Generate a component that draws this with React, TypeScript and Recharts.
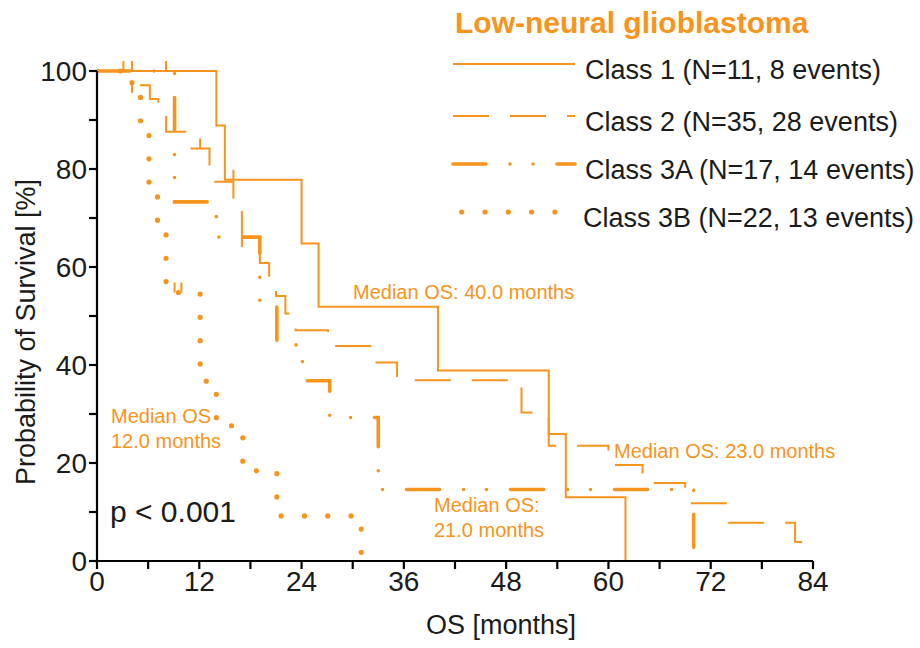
import React from "react";
import { LineChart, Line, XAxis, YAxis, Scatter } from "recharts";

const ORANGE = "#F7941D";
const INK = "#1b1b1b";
const FONT = "'Liberation Sans', Arial, Helvetica, sans-serif";

// Kaplan-Meier steps: t = months, s = survival [%]
const class1 = [
  { t: 0, s: 100 }, { t: 14, s: 88.9 }, { t: 15, s: 77.8 }, { t: 24, s: 64.8 },
  { t: 26, s: 51.9 }, { t: 40, s: 38.9 }, { t: 53, s: 25.9 }, { t: 55, s: 13.0 },
  { t: 62, s: 0 },
];

const class2 = [
  { t: 0, s: 100 }, { t: 5.0, s: 97.1 }, { t: 6.2, s: 94.3 }, { t: 7.2, s: 91.4 },
  { t: 8.1, s: 87.6 }, { t: 10.9, s: 84.2 }, { t: 13.2, s: 77.4 }, { t: 16.0, s: 72.5 },
  { t: 17.0, s: 63.5 }, { t: 19.1, s: 60.8 }, { t: 20.2, s: 57.1 }, { t: 21.0, s: 54.1 },
  { t: 22.1, s: 50.5 }, { t: 23.3, s: 47.1 }, { t: 27.1, s: 43.9 }, { t: 32.1, s: 40.5 },
  { t: 35.2, s: 36.9 }, { t: 49.8, s: 30.3 }, { t: 53.0, s: 23.5 }, { t: 60.0, s: 19.6 },
  { t: 64.0, s: 15.9 }, { t: 69.0, s: 11.8 }, { t: 74.1, s: 7.8 }, { t: 81.9, s: 3.9 },
  { t: 84, s: 3.9 },
];

const class3A = [
  { t: 0, s: 100 }, { t: 9.1, s: 73.3 }, { t: 14.0, s: 66.1 }, { t: 19.1, s: 52.4 },
  { t: 21.1, s: 44.1 }, { t: 24.1, s: 36.8 }, { t: 27.3, s: 29.3 }, { t: 33.0, s: 14.6 },
  { t: 70.0, s: 0 },
];

const class3B = [
  { t: 0, s: 100 }, { t: 4.1, s: 95.5 }, { t: 5.1, s: 88.0 }, { t: 6.1, s: 76.0 },
  { t: 7.1, s: 68.0 }, { t: 8.1, s: 54.8 }, { t: 12.1, s: 36.7 }, { t: 14.0, s: 27.6 },
  { t: 17.1, s: 18.4 }, { t: 21.1, s: 9.2 }, { t: 31.0, s: 0 },
];

// censored patients (small vertical ticks)
const censored = [
  { t: 3.1, s: 100 }, { t: 4.1, s: 100 }, { t: 8.1, s: 100 },
  { t: 12.1, s: 84.2 }, { t: 16.0, s: 77.8 },
  { t: 4.1, s: 95.5 }, { t: 9.1, s: 54.8 }, { t: 9.9, s: 54.8 },
];

const xTicks = [0, 6, 12, 18, 24, 30, 36, 42, 48, 54, 60, 66, 72, 78, 84];
const yTicks = [0, 10, 20, 30, 40, 50, 60, 70, 80, 90, 100];

const series = [
  { key: "c1", label: "Class 1 (N=11, 8 events)", data: class1, dash: undefined, width: 2, cap: "butt" },
  { key: "c2", label: "Class 2 (N=35, 28 events)", data: class2, dash: "36 21", width: 2, cap: "butt" },
  { key: "c3a", label: "Class 3A (N=17, 14 events)", data: class3A, dash: "33 24 0 23 0 24", width: 3.6, cap: "round" },
  { key: "c3b", label: "Class 3B (N=22, 13 events)", data: class3B, dash: "0 23.3", width: 5.2, cap: "round" },
];

const XTick = ({ x, y, payload }: any) =>
  payload.value % 12 === 0 ? (
    <text x={x} y={y + 20} textAnchor="middle" fontSize={28} fill={INK} fontFamily={FONT}>
      {payload.value}
    </text>
  ) : null;

const YTick = ({ x, y, payload }: any) =>
  payload.value % 20 === 0 ? (
    <text x={x} y={y + 10} textAnchor="end" fontSize={28} fill={INK} fontFamily={FONT}>
      {payload.value}
    </text>
  ) : null;

const CensorMark = ({ cx, cy }: any) => (
  <line x1={cx} x2={cx} y1={cy - 10} y2={cy} stroke={ORANGE} strokeWidth={2} />
);

const legendY = [64, 116, 164, 212];

export default function App() {
  return (
    <div style={{ position: "absolute", left: 0, top: 0, background: "#fff" }}>
      <LineChart width={920} height={648} margin={{ top: 71, right: 107, bottom: 27, left: 0 }}>
        <XAxis
          type="number"
          dataKey="t"
          domain={[0, 84]}
          ticks={xTicks}
          interval={0}
          height={60}
          tickSize={8}
          tick={<XTick />}
          axisLine={{ stroke: "#000", strokeWidth: 2.2 }}
          tickLine={{ stroke: "#000", strokeWidth: 2.2 }}
          allowDataOverflow
        />
        <YAxis
          type="number"
          dataKey="s"
          domain={[0, 100]}
          ticks={yTicks}
          interval={0}
          width={97}
          tickSize={8}
          tick={<YTick />}
          axisLine={{ stroke: "#000", strokeWidth: 2.2 }}
          tickLine={{ stroke: "#000", strokeWidth: 2.2 }}
        />
        {series.map((d) => (
          <Line
            key={d.key}
            data={d.data}
            dataKey="s"
            type="stepAfter"
            stroke={ORANGE}
            strokeWidth={d.width}
            strokeDasharray={d.dash}
            strokeLinecap={d.cap as any}
            dot={false}
            activeDot={false}
            isAnimationActive={false}
          />
        ))}
        <Scatter data={censored} dataKey="s" shape={<CensorMark />} isAnimationActive={false} />

        {/* title + legend */}
        <text x={455} y={33} fontSize={30} fontWeight="bold" fill={ORANGE} fontFamily={FONT}>
          Low-neural glioblastoma
        </text>
        {series.map((d, i) => (
          <g key={`leg-${d.key}`}>
            <line
              x1={d.key === "c3b" ? 461.7 : 453}
              x2={575}
              y1={legendY[i]}
              y2={legendY[i]}
              stroke={ORANGE}
              strokeWidth={d.width}
              strokeDasharray={d.dash}
              strokeLinecap={d.cap as any}
            />
            <text x={d.key === "c3b" ? 583 : 585} y={legendY[i] + 15} fontSize={27} fill={INK} fontFamily={FONT}>
              {d.label}
            </text>
          </g>
        ))}

        {/* annotations */}
        <g fontFamily={FONT} fontSize={20} fill={ORANGE}>
          <text x={353} y={299}>Median OS: 40.0 months</text>
          <text x={111} y={423}>Median OS</text>
          <text x={111} y={448}>12.0 months</text>
          <text x={434} y={512}>Median OS:</text>
          <text x={434} y={537}>21.0 months</text>
          <text x={614} y={458}>Median OS: 23.0 months</text>
        </g>
        <text x={110} y={522} fontSize={30} fill={INK} fontFamily={FONT}>
          p &lt; 0.001
        </text>

        {/* axis titles */}
        <text x={501} y={634} textAnchor="middle" fontSize={27} fill={INK} fontFamily={FONT}>
          OS [months]
        </text>
        <text
          x={0}
          y={0}
          transform="translate(35, 332) rotate(-90)"
          textAnchor="middle"
          fontSize={27}
          fill={INK}
          fontFamily={FONT}
        >
          Probability of Survival [%]
        </text>
      </LineChart>
    </div>
  );
}
